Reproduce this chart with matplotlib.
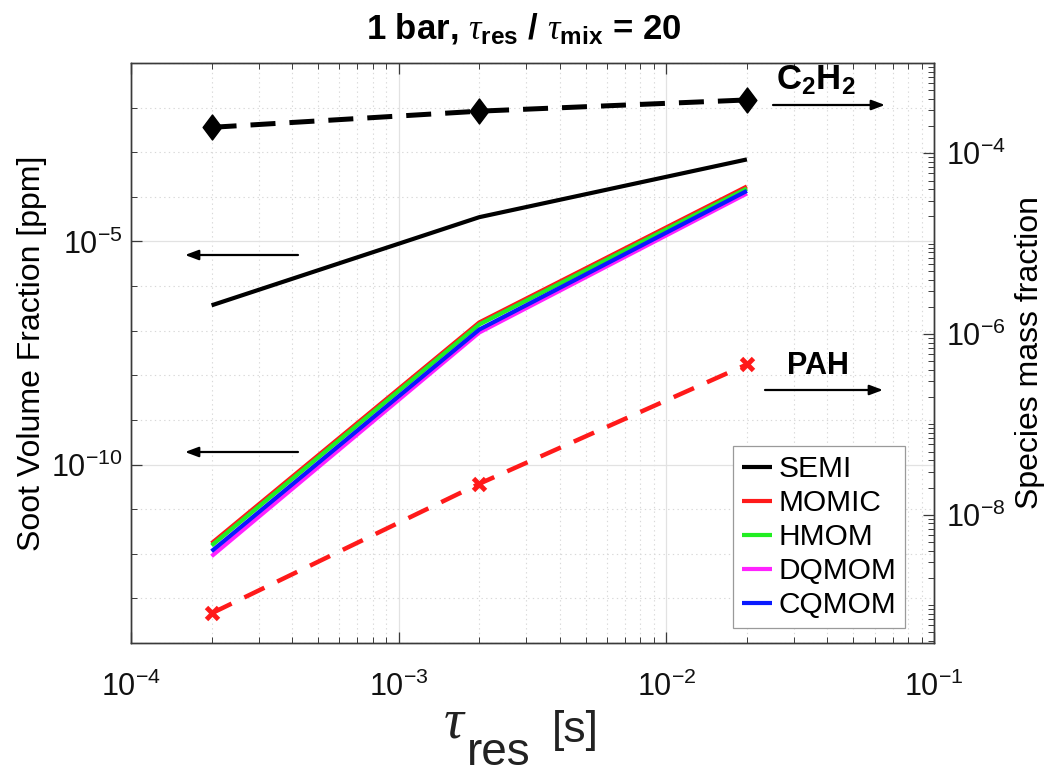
import numpy as np
import matplotlib
matplotlib.use("Agg")
import matplotlib.pyplot as plt
from matplotlib.ticker import LogLocator, NullFormatter, FixedLocator
from matplotlib.path import Path

plt.rcParams['font.family'] = ['Liberation Sans', 'DejaVu Sans']
plt.rcParams['mathtext.fontset'] = 'custom'
plt.rcParams['mathtext.rm'] = 'Liberation Sans'
plt.rcParams['mathtext.it'] = 'Liberation Serif:italic'
plt.rcParams['mathtext.bf'] = 'Liberation Sans:bold'
plt.rcParams['mathtext.default'] = 'regular'

# ---------------- data ----------------
tau_res = [2e-4, 2e-3, 2e-2]
semi = [3.7e-7, 3.5e-5, 6.9e-4]
momic = [1.72e-12, 1.53e-7, 1.71e-4]
hmom = [1.53e-12, 1.38e-7, 1.54e-4]
dqmom = [8.8e-13, 9.1e-8, 1.19e-4]
cqmom = [1.14e-12, 1.06e-7, 1.36e-4]
c2h2 = [1.94e-4, 2.93e-4, 3.9e-4]
pah = [8.1e-10, 2.2e-8, 4.6e-7]

soot_names = ['SEMI', 'MOMIC', 'HMOM', 'DQMOM', 'CQMOM']
soot_colors = ['#000000', '#ff1a1a', '#22ee22', '#ff22ff', '#0a1aff']

# ---------------- figure ----------------
fig = plt.figure(figsize=(10.48, 7.74), dpi=100)
x0, x1, ytop, ybot = 131, 934, 63, 643
ax = fig.add_axes([x0 / 1048, 1 - ybot / 774, (x1 - x0) / 1048, (ybot - ytop) / 774])
ax2 = ax.twinx()

axc = '#3a3a3a'
for a in (ax, ax2):
    for s in a.spines.values():
        s.set_color(axc)
        s.set_linewidth(1.0)

ax.set_xscale('log')
ax.set_yscale('log')
ax2.set_yscale('log')
ax.set_xlim(1e-4, 1e-1)
ax.set_ylim(1e-14, 1e-1)
ax2.set_ylim(3.8e-10, 1e-3)

# soot lines (left axis)
series = [semi, momic, hmom, dqmom, cqmom]
handles = []
for name, vals, col in zip(soot_names, series, soot_colors):
    h, = ax.plot(tau_res, vals, color=col, lw=3.0, solid_capstyle='butt', label=name)
    handles.append(h)

# species (right axis)
diamond = Path([(0, 1), (0.75, 0), (0, -1), (-0.75, 0), (0, 1)],
               [Path.MOVETO, Path.LINETO, Path.LINETO, Path.LINETO, Path.CLOSEPOLY])
ax2.plot(tau_res, c2h2, color='k', lw=3.6, linestyle=(0, (5.0, 2.8)),
         marker=diamond, markersize=18, markerfacecolor='k', markeredgecolor='k')
ax2.plot(tau_res, pah, color='#ff1a1a', lw=3.2, linestyle=(0, (5.0, 3.2)),
         marker='x', markersize=8, markeredgewidth=3.5)

# ticks
ax.xaxis.set_major_locator(LogLocator(base=10, numticks=10))
ax.xaxis.set_minor_locator(LogLocator(base=10, subs=np.arange(2, 10), numticks=20))
ax.xaxis.set_minor_formatter(NullFormatter())
ax.yaxis.set_major_locator(FixedLocator([1e-10, 1e-5]))
ax.yaxis.set_minor_locator(FixedLocator([10.0 ** k for k in range(-14, 0)]))
ax.yaxis.set_minor_formatter(NullFormatter())
ax2.yaxis.set_major_locator(FixedLocator([1e-8, 1e-6, 1e-4]))
ax2.yaxis.set_minor_locator(LogLocator(base=10, subs=np.arange(1, 10), numticks=30))
ax2.yaxis.set_minor_formatter(NullFormatter())

ax.tick_params(axis='both', which='both', direction='in', colors=axc, labelcolor='#111111')
ax.tick_params(axis='x', which='both', top=True)
ax.tick_params(axis='y', which='both', right=False)
ax.tick_params(axis='both', which='major', length=8, width=0.9, labelsize=22)
ax.tick_params(axis='both', which='minor', length=4, width=0.7)
ax.tick_params(axis='x', which='major', pad=21)
ax.tick_params(axis='y', which='major', pad=6)
ax2.tick_params(axis='y', which='both', direction='in', colors=axc, labelcolor='#111111')
ax2.tick_params(axis='y', which='major', length=8, width=0.9, labelsize=22, pad=9)
ax2.tick_params(axis='y', which='minor', length=4, width=0.7)

# grids
ax.grid(True, which='major', color='#e2e2e2', lw=0.9, linestyle='-')
ax.grid(True, which='minor', color='#d8d8d8', lw=0.8, linestyle=(0, (1.2, 3)))
ax.set_axisbelow(True)

# labels
ax.set_ylabel('Soot Volume Fraction [ppm]', fontsize=23, color='k')
ax.yaxis.set_label_coords(-0.105, 0.5)
ax2.set_ylabel('Species mass fraction', fontsize=23, color='k')
ax2.yaxis.set_label_coords(1.101, 0.5)

# x label composed as tau + large subscript + unit (MATLAB tex style)
def fig_xy(px, py):
    return px / 1048, 1 - py / 774
fig.text(*fig_xy(443, 737), r'$\mathit{\tau}$', fontsize=40, ha='left', va='baseline',
         color='#222222')
fig.text(*fig_xy(467, 765), 'res', fontsize=33, ha='left', va='baseline', color='#222222')
fig.text(*fig_xy(552, 742), '[s]', fontsize=32, ha='left', va='baseline', color='#222222')

fig.text(0.5, 1 - 29 / 774,
         r'1 bar, $\mathit{\tau}_{\mathbf{res}}$ / $\mathit{\tau}_{\mathbf{mix}}$ = 20',
         ha='center', va='center', fontsize=25, fontweight='bold')

# legend
leg = ax.legend(handles=handles, loc='lower right', bbox_to_anchor=(0.964, 0.026),
                borderaxespad=0, fontsize=21.5, handlelength=1.0, handletextpad=0.2,
                labelspacing=0.2, borderpad=0.3, fancybox=False, framealpha=1,
                edgecolor='#9a9a9a')
leg.get_frame().set_linewidth(0.9)
leg.set_zorder(20)

# arrows and species labels
W, H = x1 - x0, ybot - ytop
def fx(px):
    return (px - x0) / W
def fy(py):
    return (ybot - py) / H

arrow_kw = dict(arrowstyle='-|>,head_length=0.8,head_width=0.3', lw=1.6, color='k',
                shrinkA=0, shrinkB=0)
for (tx, ty, hx, hy, axis) in [(298, 255, 185, 255, ax), (298, 452, 185, 452, ax),
                               (773, 105, 885, 105, ax2), (765, 390, 883, 390, ax2)]:
    axis.annotate('', xy=(fx(hx), fy(hy)), xytext=(fx(tx), fy(ty)),
                  xycoords='axes fraction', textcoords='axes fraction', arrowprops=arrow_kw)
ax2.text(fx(816), fy(80), r'$\mathbf{C_2H_2}$', transform=ax2.transAxes,
         ha='center', va='center', fontsize=25)
ax2.text(fx(818), fy(366), 'PAH', transform=ax2.transAxes, ha='center', va='center',
         fontsize=22, fontweight='bold')

fig.savefig('out.png', dpi=100)
